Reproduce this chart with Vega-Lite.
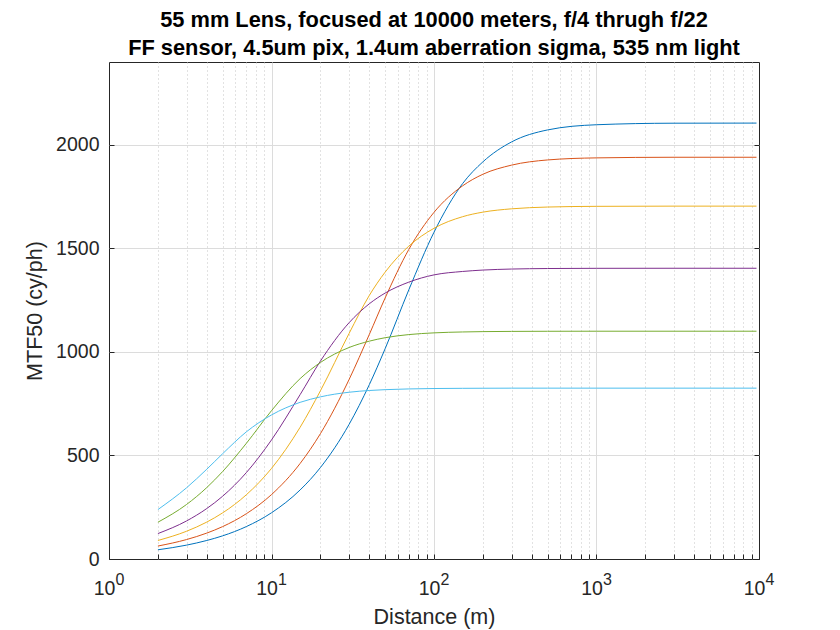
{
  "$schema": "https://vega.github.io/schema/vega-lite/v6.json",
  "width": 650,
  "height": 497,
  "autosize": {"type": "none"},
  "padding": {"left": 109, "top": 62, "right": 81, "bottom": 71},
  "background": "white",
  "title": {
    "text": ["55 mm Lens, focused at 10000 meters, f/4 thrugh f/22", "FF sensor, 4.5um pix, 1.4um aberration sigma, 535 nm light"],
    "font": "Liberation Sans",
    "fontSize": 21.8,
    "fontWeight": "bold",
    "color": "#000000",
    "lineHeight": 28,
    "anchor": "middle",
    "offset": 2
  },
  "config": {
    "view": {"stroke": "#262626", "strokeWidth": 1},
    "axis": {
      "labelFont": "Liberation Sans",
      "titleFont": "Liberation Sans",
      "labelColor": "#262626",
      "titleColor": "#262626",
      "tickColor": "#262626",
      "domain": false,
      "titleFontWeight": "normal"
    }
  },
  "data": {
    "values": [
      {"d": 2, "f": "f/4", "v": 44.5}, {"d": 3, "f": "f/4", "v": 67}, {"d": 4, "f": "f/4", "v": 89.5}, {"d": 5, "f": "f/4", "v": 111.8}, {"d": 7, "f": "f/4", "v": 156.5}, {"d": 10, "f": "f/4", "v": 223.2}, {"d": 15, "f": "f/4", "v": 333.4}, {"d": 20, "f": "f/4", "v": 441.6}, {"d": 30, "f": "f/4", "v": 649.6}, {"d": 40, "f": "f/4", "v": 842}, {"d": 50, "f": "f/4", "v": 1015}, {"d": 70, "f": "f/4", "v": 1300}, {"d": 100, "f": "f/4", "v": 1578}, {"d": 150, "f": "f/4", "v": 1813}, {"d": 200, "f": "f/4", "v": 1918}, {"d": 300, "f": "f/4", "v": 2014}, {"d": 500, "f": "f/4", "v": 2072}, {"d": 1000, "f": "f/4", "v": 2097}, {"d": 3000, "f": "f/4", "v": 2104.5}, {"d": 9650, "f": "f/4", "v": 2105},
      {"d": 2, "f": "f/5.6", "v": 62.6}, {"d": 3, "f": "f/5.6", "v": 93.9}, {"d": 4, "f": "f/5.6", "v": 125.2}, {"d": 5, "f": "f/5.6", "v": 156.4}, {"d": 7, "f": "f/5.6", "v": 218.6}, {"d": 10, "f": "f/5.6", "v": 311}, {"d": 15, "f": "f/5.6", "v": 461.3}, {"d": 20, "f": "f/5.6", "v": 605.3}, {"d": 30, "f": "f/5.6", "v": 866.2}, {"d": 40, "f": "f/5.6", "v": 1084.7}, {"d": 50, "f": "f/5.6", "v": 1260}, {"d": 70, "f": "f/5.6", "v": 1495}, {"d": 100, "f": "f/5.6", "v": 1674}, {"d": 150, "f": "f/5.6", "v": 1802}, {"d": 200, "f": "f/5.6", "v": 1858}, {"d": 300, "f": "f/5.6", "v": 1902}, {"d": 500, "f": "f/5.6", "v": 1927}, {"d": 1000, "f": "f/5.6", "v": 1937}, {"d": 3000, "f": "f/5.6", "v": 1940}, {"d": 9650, "f": "f/5.6", "v": 1940},
      {"d": 2, "f": "f/8", "v": 89.4}, {"d": 3, "f": "f/8", "v": 134}, {"d": 4, "f": "f/8", "v": 178.4}, {"d": 5, "f": "f/8", "v": 222.6}, {"d": 7, "f": "f/8", "v": 310.1}, {"d": 10, "f": "f/8", "v": 437.4}, {"d": 15, "f": "f/8", "v": 636.1}, {"d": 20, "f": "f/8", "v": 812.1}, {"d": 30, "f": "f/8", "v": 1088.7}, {"d": 40, "f": "f/8", "v": 1273}, {"d": 50, "f": "f/8", "v": 1385}, {"d": 70, "f": "f/8", "v": 1511}, {"d": 100, "f": "f/8", "v": 1597}, {"d": 150, "f": "f/8", "v": 1653}, {"d": 200, "f": "f/8", "v": 1675}, {"d": 300, "f": "f/8", "v": 1691}, {"d": 500, "f": "f/8", "v": 1699.6}, {"d": 1000, "f": "f/8", "v": 1703}, {"d": 3000, "f": "f/8", "v": 1704}, {"d": 9650, "f": "f/8", "v": 1704},
      {"d": 2, "f": "f/11", "v": 122.8}, {"d": 3, "f": "f/11", "v": 183.7}, {"d": 4, "f": "f/11", "v": 243.9}, {"d": 5, "f": "f/11", "v": 302.9}, {"d": 7, "f": "f/11", "v": 417.1}, {"d": 10, "f": "f/11", "v": 575}, {"d": 15, "f": "f/11", "v": 793.7}, {"d": 20, "f": "f/11", "v": 955.7}, {"d": 30, "f": "f/11", "v": 1140.8}, {"d": 40, "f": "f/11", "v": 1232.5}, {"d": 50, "f": "f/11", "v": 1284}, {"d": 70, "f": "f/11", "v": 1337}, {"d": 100, "f": "f/11", "v": 1372}, {"d": 150, "f": "f/11", "v": 1388.5}, {"d": 200, "f": "f/11", "v": 1395.3}, {"d": 300, "f": "f/11", "v": 1400.2}, {"d": 500, "f": "f/11", "v": 1402.7}, {"d": 1000, "f": "f/11", "v": 1403.7}, {"d": 3000, "f": "f/11", "v": 1404}, {"d": 9650, "f": "f/11", "v": 1404},
      {"d": 2, "f": "f/16", "v": 177.6}, {"d": 3, "f": "f/16", "v": 263.2}, {"d": 4, "f": "f/16", "v": 345.2}, {"d": 5, "f": "f/16", "v": 422.1}, {"d": 7, "f": "f/16", "v": 558.4}, {"d": 10, "f": "f/16", "v": 716.2}, {"d": 15, "f": "f/16", "v": 871}, {"d": 20, "f": "f/16", "v": 949}, {"d": 30, "f": "f/16", "v": 1021.2}, {"d": 40, "f": "f/16", "v": 1052}, {"d": 50, "f": "f/16", "v": 1068.5}, {"d": 70, "f": "f/16", "v": 1083.7}, {"d": 100, "f": "f/16", "v": 1092}, {"d": 150, "f": "f/16", "v": 1096.4}, {"d": 200, "f": "f/16", "v": 1098}, {"d": 300, "f": "f/16", "v": 1099.1}, {"d": 500, "f": "f/16", "v": 1099.7}, {"d": 1000, "f": "f/16", "v": 1100}, {"d": 3000, "f": "f/16", "v": 1100}, {"d": 9650, "f": "f/16", "v": 1100},
      {"d": 2, "f": "f/22", "v": 238.7}, {"d": 3, "f": "f/22", "v": 343.8}, {"d": 4, "f": "f/22", "v": 433.8}, {"d": 5, "f": "f/22", "v": 508.1}, {"d": 7, "f": "f/22", "v": 613.9}, {"d": 10, "f": "f/22", "v": 695.6}, {"d": 15, "f": "f/22", "v": 756.5}, {"d": 20, "f": "f/22", "v": 782.9}, {"d": 30, "f": "f/22", "v": 805.3}, {"d": 40, "f": "f/22", "v": 813.7}, {"d": 50, "f": "f/22", "v": 817.7}, {"d": 70, "f": "f/22", "v": 821.3}, {"d": 100, "f": "f/22", "v": 823.2}, {"d": 150, "f": "f/22", "v": 824.2}, {"d": 200, "f": "f/22", "v": 824.6}, {"d": 300, "f": "f/22", "v": 825}, {"d": 500, "f": "f/22", "v": 825}, {"d": 1000, "f": "f/22", "v": 825}, {"d": 3000, "f": "f/22", "v": 825}, {"d": 9650, "f": "f/22", "v": 825}
    ]
  },
  "layer": [
    {
      "mark": {"type": "line", "strokeWidth": 1, "interpolate": "monotone"},
      "encoding": {
        "x": {
          "field": "d", "type": "quantitative",
          "scale": {"type": "log", "domain": [1, 10000], "nice": false},
          "axis": {
            "orient": "bottom",
            "values": [1, 2, 3, 4, 5, 6, 7, 8, 9, 10, 20, 30, 40, 50, 60, 70, 80, 90, 100, 200, 300, 400, 500, 600, 700, 800, 900, 1000, 2000, 3000, 4000, 5000, 6000, 7000, 8000, 9000, 10000],
            "labelExpr": "indexof([1,10,100,1000,10000], datum.value) >= 0 ? '10' : ''",
            "labelFontSize": 19.5,
            "labelFlush": false,
            "labelOverlap": false,
            "labelOffset": -5,
            "labelPadding": 25,
            "tickSize": -5,
            "grid": true,
            "gridColor": {"condition": {"test": "indexof([1,10,100,1000,10000], datum.value) >= 0", "value": "#dcdcdc"}, "value": "#c4c4c4"},
            "gridDash": {"condition": {"test": "indexof([1,10,100,1000,10000], datum.value) >= 0", "value": []}, "value": [1, 3]},
            "gridOpacity": {"condition": {"test": "datum.value == 1 || datum.value == 10000", "value": 0}, "value": 1},
            "title": "Distance (m)",
            "titleFontSize": 21.5,
            "titlePadding": 9
          }
        },
        "y": {
          "field": "v", "type": "quantitative",
          "scale": {"domain": [0, 2400], "nice": false},
          "axis": {
            "orient": "left",
            "values": [0, 500, 1000, 1500, 2000],
            "format": "d",
            "labelFontSize": 19.5,
            "labelPadding": 15,
            "tickSize": -5,
            "grid": true,
            "gridColor": "#dcdcdc",
            "gridOpacity": {"condition": {"test": "datum.value == 0", "value": 0}, "value": 1},
            "title": "MTF50 (cy/ph)",
            "titleFontSize": 21.5,
            "titlePadding": 9
          }
        },
        "color": {
          "field": "f", "type": "nominal",
          "scale": {"domain": ["f/4", "f/5.6", "f/8", "f/11", "f/16", "f/22"], "range": ["#0072BD", "#D95319", "#EDB120", "#7E2F8E", "#77AC30", "#4DBEEE"]},
          "legend": null
        }
      }
    },
    {
      "mark": {"type": "line", "opacity": 0},
      "encoding": {
        "x": {
          "field": "d", "type": "quantitative",
          "axis": {
            "orient": "bottom",
            "values": [1, 10, 100, 1000, 10000],
            "labelExpr": "'' + round(log(datum.value) / LN10)",
            "labelFontSize": 16,
            "labelFlush": false,
            "labelOverlap": false,
            "labelOffset": 10.5,
            "labelPadding": 12.8,
            "ticks": false,
            "grid": false,
            "title": null
          }
        },
        "y": {
          "field": "v", "type": "quantitative",
          "axis": {
            "orient": "right",
            "values": [0, 500, 1000, 1500, 2000],
            "labels": false,
            "tickSize": -5,
            "grid": false,
            "title": null
          }
        },
        "detail": {"field": "f"}
      }
    }
  ],
  "resolve": {"axis": {"x": "independent", "y": "independent"}}
}
